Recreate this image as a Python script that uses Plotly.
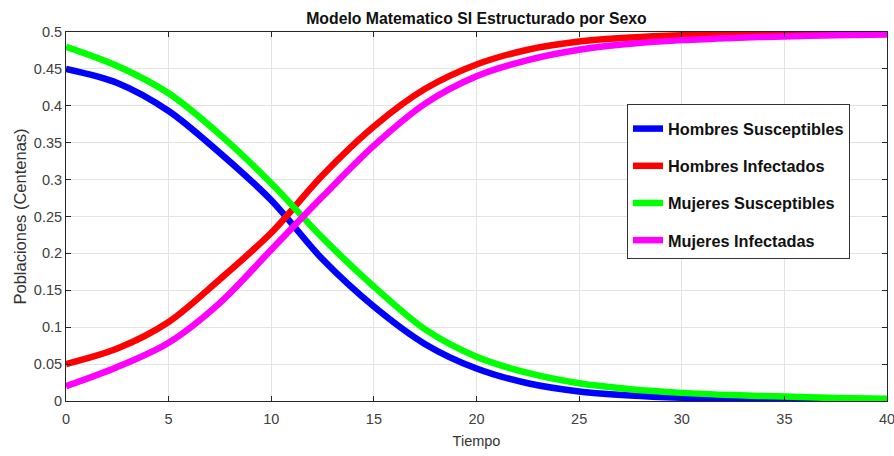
import plotly.graph_objects as go

# Time points (Tiempo)
tiempo = [0, 2.5, 5, 7.5, 10, 12.5, 15, 17.5, 20, 22.5, 25, 27.5, 30, 32.5, 35, 37.5, 40]

hombres_susceptibles = [0.450, 0.431, 0.393, 0.336, 0.272, 0.192, 0.128, 0.077, 0.044, 0.024, 0.013,
                        0.0075, 0.0045, 0.003, 0.002, 0.0012, 0.0008]
hombres_infectados = [0.050, 0.071, 0.107, 0.165, 0.228, 0.306, 0.372, 0.423, 0.456, 0.476, 0.487,
                      0.4925, 0.4955, 0.497, 0.498, 0.4988, 0.4992]
mujeres_susceptibles = [0.480, 0.454, 0.417, 0.361, 0.295, 0.221, 0.155, 0.097, 0.060, 0.038, 0.024,
                        0.016, 0.011, 0.008, 0.006, 0.004, 0.003]
mujeres_infectadas = [0.020, 0.046, 0.079, 0.133, 0.205, 0.277, 0.346, 0.403, 0.440, 0.462, 0.476,
                      0.484, 0.489, 0.492, 0.494, 0.4955, 0.4965]

series_names = ["Hombres Susceptibles", "Hombres Infectados", "Mujeres Susceptibles", "Mujeres Infectadas"]
series_values = [hombres_susceptibles, hombres_infectados, mujeres_susceptibles, mujeres_infectadas]
series_colors = ["#0000ff", "#ff0000", "#00ff00", "#ff00ff"]

y_tick_vals = [0, 0.05, 0.1, 0.15, 0.2, 0.25, 0.3, 0.35, 0.4, 0.45, 0.5]
y_tick_text = ["0", "0.05", "0.1", "0.15", "0.2", "0.25", "0.3", "0.35", "0.4", "0.45", "0.5"]
x_tick_vals = [0, 5, 10, 15, 20, 25, 30, 35, 40]
x_tick_text = ["0", "5", "10", "15", "20", "25", "30", "35", "40"]

FONT = "Liberation Sans, Arial, sans-serif"

W, H = 894, 456

fig = go.Figure()
for name, vals, col in zip(series_names, series_values, series_colors):
    fig.add_trace(go.Scatter(
        x=tiempo, y=vals, mode="lines", name="<b>" + name + "</b>", legendgroup=name,
        line=dict(color=col, width=6.5, shape="spline", smoothing=0.9),
    ))

axis_font = dict(family=FONT, size=14.5, color="#404040")

fig.update_layout(
    width=W, height=H,
    margin=dict(l=66, r=7, t=32, b=55),
    paper_bgcolor="white", plot_bgcolor="white",
    title=dict(
        text="<b>Modelo Matematico SI Estructurado por Sexo</b>",
        x=(66 + 887) / 2 / W, xanchor="center",
        y=1 - 18 / H, yanchor="middle",
        font=dict(family=FONT, size=15.8, color="#111111"),
    ),
    legend=dict(
        x=(627 - 66) / 821, y=(401 - 104) / 369, xanchor="left", yanchor="top",
        bgcolor="white", bordercolor="#333333", borderwidth=1,
        font=dict(family=FONT, size=16.3, color="#111111"),
        title=dict(text=" ", font=dict(size=5)),
        tracegroupgap=13,
        itemwidth=30,
    ),
    showlegend=True,
)

fig.update_xaxes(
    range=[0, 40], tickvals=x_tick_vals, ticktext=x_tick_text,
    showgrid=True, gridcolor="#e3e3e3", gridwidth=1,
    showline=True, linecolor="#262626", linewidth=1, mirror="ticks",
    ticks="inside", ticklen=5, tickcolor="#262626",
    tickfont=axis_font, zeroline=False, automargin=False,
    ticklabeloverflow="allow", ticklabelstandoff=5,
    title=dict(text="Tiempo", font=dict(family=FONT, size=14.5, color="#333333"), standoff=9),
)
fig.update_yaxes(
    range=[0, 0.5], tickvals=y_tick_vals, ticktext=y_tick_text,
    showgrid=True, gridcolor="#e3e3e3", gridwidth=1,
    showline=True, linecolor="#262626", linewidth=1, mirror="ticks",
    ticks="inside", ticklen=5, tickcolor="#262626",
    tickfont=axis_font, zeroline=False, automargin=False,
    ticklabeloverflow="allow",
    title=dict(text="Poblaciones (Centenas)", font=dict(family=FONT, size=16.5, color="#333333"), standoff=3),
)

# remove the browser's default 8px body margin so the figure fills the window exactly
fig.write_html(
    "out.html",
    config={"displayModeBar": False, "staticPlot": True},
    post_script="document.body.style.margin='0';document.body.style.overflow='hidden';",
)
